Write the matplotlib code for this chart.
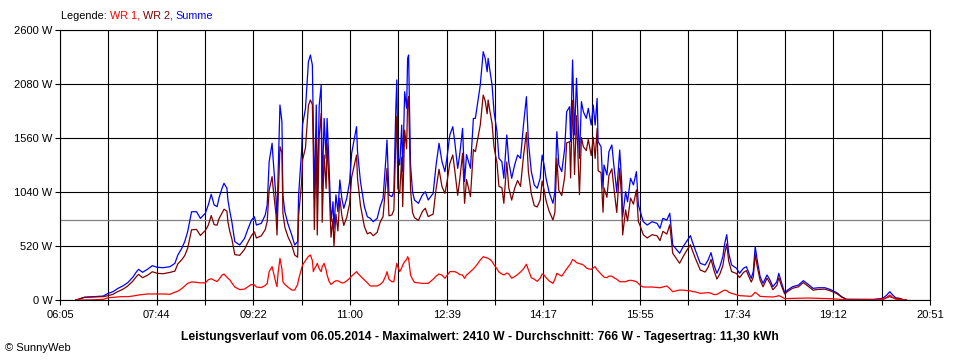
import matplotlib.pyplot as plt
import numpy as np

# Messzeitpunkte (hh:mm) und Leistung der beiden Wechselrichter in W
zeit = [
    '06:21', '06:23', '06:30', '06:39', '06:49', '06:54', '06:59', '07:04', '07:09', '07:14',
    '07:19', '07:23', '07:25', '07:29', '07:34', '07:39', '07:44', '07:50', '07:57', '08:02',
    '08:05', '08:09', '08:12', '08:15', '08:19', '08:24', '08:28', '08:33', '08:36', '08:39',
    '08:42', '08:45', '08:47', '08:50', '08:52', '08:55', '08:56', '08:58', '09:00', '09:03',
    '09:08', '09:13', '09:16', '09:20', '09:23', '09:25', '09:30', '09:34', '09:36', '09:38',
    '09:41', '09:42', '09:45', '09:46', '09:47', '09:49', '09:51', '09:52', '09:54', '09:57',
    '10:01', '10:04', '10:07', '10:08', '10:11', '10:12', '10:15', '10:18', '10:20', '10:22',
    '10:23', '10:24', '10:26', '10:27', '10:29', '10:31', '10:32', '10:34', '10:36', '10:37',
    '10:39', '10:41', '10:43', '10:44', '10:46', '10:48', '10:50', '10:52', '10:54', '10:57',
    '11:00', '11:02', '11:07', '11:08', '11:11', '11:15', '11:18', '11:21', '11:24', '11:28',
    '11:31', '11:34', '11:37', '11:38', '11:40', '11:43', '11:45', '11:47', '11:48', '11:49',
    '11:51', '11:53', '11:54', '11:56', '11:58', '11:59', '12:00', '12:02', '12:04', '12:06',
    '12:10', '12:14', '12:17', '12:20', '12:25', '12:28', '12:31', '12:34', '12:37', '12:39',
    '12:42', '12:45', '12:47', '12:50', '12:52', '12:55', '12:57', '12:59', '13:03', '13:06',
    '13:08', '13:10', '13:13', '13:16', '13:18', '13:20', '13:21', '13:23', '13:25', '13:27',
    '13:30', '13:32', '13:35', '13:37', '13:40', '13:42', '13:45', '13:48', '13:51', '13:54',
    '13:57', '14:00', '14:02', '14:05', '14:08', '14:11', '14:14', '14:16', '14:18', '14:20',
    '14:23', '14:27', '14:29', '14:31', '14:33', '14:36', '14:39', '14:41', '14:44', '14:45',
    '14:47', '14:49', '14:51', '14:54', '14:56', '14:58', '15:01', '15:03', '15:06', '15:08',
    '15:10', '15:12', '15:13', '15:16', '15:18', '15:19', '15:22', '15:24', '15:27', '15:29',
    '15:32', '15:35', '15:37', '15:38', '15:41', '15:43', '15:46', '15:49', '15:52', '15:54',
    '15:56', '15:59', '16:03', '16:08', '16:13', '16:16', '16:19', '16:23', '16:26', '16:29',
    '16:36', '16:40', '16:44', '16:47', '16:49', '16:52', '16:57', '17:02', '17:05', '17:08',
    '17:11', '17:14', '17:17', '17:20', '17:22', '17:24', '17:26', '17:29', '17:34', '17:37',
    '17:41', '17:44', '17:46', '17:49', '17:51', '17:53', '17:55', '17:58', '18:01', '18:05',
    '18:08', '18:11', '18:15', '18:17', '18:20', '18:23', '18:26', '18:31', '18:37', '18:42',
    '18:47', '18:52', '18:57', '19:04', '19:09', '19:16', '19:21', '19:26', '19:53', '20:03',
    '20:07', '20:10', '20:13', '20:16', '20:20', '20:23', '20:27',
]

wr1 = [
    0, 0, 0, 2, 6, 22, 25, 30, 32, 32,
    38, 45, 48, 52, 58, 58, 58, 58, 55, 75,
    85, 110, 135, 160, 174, 170, 165, 165, 195, 205,
    190, 178, 200, 240, 250, 220, 210, 193, 165, 125,
    100, 105, 125, 150, 145, 125, 120, 140, 160, 273,
    321, 280, 160, 128, 250, 401, 300, 176, 150, 125,
    96, 96, 150, 200, 300, 337, 380, 420, 433, 380,
    273, 300, 330, 353, 300, 273, 320, 353, 290, 241,
    180, 150, 165, 175, 185, 185, 175, 165, 165, 185,
    209, 230, 273, 260, 230, 193, 165, 135, 135, 135,
    150, 176, 240, 273, 200, 176, 176, 300, 353, 320,
    273, 310, 337, 370, 390, 417, 400, 241, 200, 170,
    165, 160, 160, 160, 200, 230, 250, 240, 209, 235,
    273, 273, 273, 260, 245, 240, 209, 240, 273, 300,
    321, 345, 385, 417, 410, 405, 401, 390, 370, 340,
    300, 270, 250, 241, 260, 250, 210, 225, 245, 270,
    300, 345, 290, 215, 200, 180, 210, 250, 240, 215,
    185, 160, 200, 257, 245, 230, 273, 300, 337, 350,
    390, 380, 360, 350, 345, 337, 310, 300, 295, 310,
    321, 290, 280, 250, 230, 220, 215, 230, 230, 215,
    200, 176, 176, 176, 176, 185, 190, 185, 176, 160,
    140, 125, 125, 125, 120, 118, 125, 135, 110, 80,
    96, 95, 90, 88, 82, 78, 64, 68, 71, 65,
    52, 55, 70, 88, 96, 90, 75, 64, 50, 42,
    40, 38, 36, 36, 55, 74, 60, 35, 33, 31,
    30, 29, 36, 42, 30, 13, 14, 15, 17, 18,
    19, 17, 16, 14, 13, 9, 4, 0, 0, 10,
    26, 48, 25, 8, 3, 0, 0,
]

wr2 = [
    0, 5, 26, 30, 32, 42, 55, 82, 103, 135,
    180, 228, 247, 215, 237, 272, 257, 253, 266, 278,
    348, 388, 427, 498, 676, 680, 621, 670, 720, 813,
    725, 721, 785, 836, 874, 856, 753, 657, 589, 437,
    430, 489, 549, 620, 657, 597, 618, 678, 755, 1059,
    1188, 1084, 819, 626, 922, 1477, 1417, 836, 700, 613,
    530, 434, 412, 812, 1128, 1348, 1466, 1875, 1926, 1883,
    1412, 679, 1548, 626, 1578, 1797, 748, 1396, 1074, 1508,
    1120, 604, 781, 515, 827, 665, 981, 814, 718, 794,
    931, 1182, 1396, 1168, 910, 706, 637, 651, 619, 651,
    749, 803, 1140, 1268, 811, 819, 867, 1546, 1766, 1076,
    1027, 1375, 899, 1636, 1456, 1910, 1959, 1059, 843, 793,
    766, 851, 883, 803, 827, 1070, 1259, 1092, 1027, 1129,
    1316, 1396, 1252, 1008, 1151, 1413, 931, 1160, 995, 1449,
    1428, 1533, 1685, 1974, 1917, 1793, 1926, 1808, 1700, 1473,
    1321, 1094, 1082, 931, 1329, 1082, 962, 1075, 1151, 1094,
    1385, 1613, 1235, 1021, 908, 896, 962, 1146, 1060, 957,
    858, 771, 843, 1364, 1055, 1006, 1187, 1513, 1525, 1175,
    1921, 1209, 1775, 1014, 1565, 1476, 1439, 1546, 1390, 1568,
    1364, 1652, 1245, 1226, 845, 1080, 989, 1198, 1263, 1085,
    843, 1268, 964, 626, 867, 761, 982, 923, 1060, 755,
    710, 629, 597, 629, 618, 572, 661, 635, 725, 450,
    354, 425, 488, 532, 478, 403, 289, 269, 314, 391,
    285, 202, 251, 329, 450, 540, 374, 273, 255, 215,
    265, 283, 237, 173, 218, 440, 325, 190, 127, 210,
    163, 99, 140, 215, 130, 58, 82, 113, 127, 168,
    131, 95, 102, 104, 90, 62, 28, 6, 5, 6,
    22, 32, 23, 14, 13, 5, 0,
]

durchschnitt = 766
x_labels = ['06:05', '07:44', '09:22', '11:00', '12:39', '14:17', '15:55', '17:34', '19:12', '20:51']
y_werte = [0, 520, 1040, 1560, 2080, 2600]


def minuten(s):
    h, m = s.split(':')
    return int(h) * 60 + int(m)


t = np.array([minuten(s) for s in zeit])
summe = np.array(wr1) + np.array(wr2)   # Summe = WR 1 + WR 2

plt.rcParams['font.family'] = ['Liberation Sans', 'DejaVu Sans']

fig = plt.figure(figsize=(9.6, 3.6), dpi=100)
ax = fig.add_axes([60 / 960, 60 / 360, 870 / 960, 270 / 360])

t0 = minuten(x_labels[0])
t1 = minuten(x_labels[-1])

# grid: every label and one line in between
ax.set_xticks(np.linspace(t0, t1, len(x_labels)))
ax.set_xticks(np.linspace(t0, t1, 2 * len(x_labels) - 1), minor=True)
ax.set_xticklabels(x_labels)
ax.set_yticks(y_werte)
ax.set_yticklabels(['%d W' % v for v in y_werte])
ax.set_xlim(t0, t1)
ax.set_ylim(0, 2600)
ax.grid(True, which='both', color='black', lw=0.8)
ax.set_axisbelow(True)
ax.tick_params(which='both', length=3.5, width=0.8, labelsize=8)
ax.tick_params(axis='x', pad=4)
ax.tick_params(axis='y', pad=2)
for s in ax.spines.values():
    s.set_linewidth(0.8)

ax.axhline(durchschnitt, color='#808080', lw=0.9, zorder=1.5)

ax.plot(t, summe, color='#0000ff', lw=0.9)
ax.plot(t, wr2, color='#800000', lw=0.9)
ax.plot(t, wr1, color='#ff0000', lw=0.9)

# Legende als farbiger Text
txt = fig.text(61 / 960, 1 - 16 / 360, 'Legende: ', fontsize=7.8, va='center')
for teil, farbe in [('WR 1, ', '#ff0000'), ('WR 2, ', '#800000'), ('Summe', '#0000ff')]:
    txt = ax.annotate(teil, xy=(1, 0), xycoords=txt, va='bottom', fontsize=7.8, color=farbe,
                      annotation_clip=False)

fig.text(0.5, 1 - 337 / 360,
         'Leistungsverlauf vom 06.05.2014 - Maximalwert: 2410 W - Durchschnitt: 766 W - Tagesertrag: 11,30 kWh',
         ha='center', va='center', fontsize=8.7, weight='bold')
fig.text(5 / 960, 1 - 348 / 360, '© SunnyWeb', fontsize=8, va='center')

fig.savefig('out.png', dpi=100, facecolor='white')
